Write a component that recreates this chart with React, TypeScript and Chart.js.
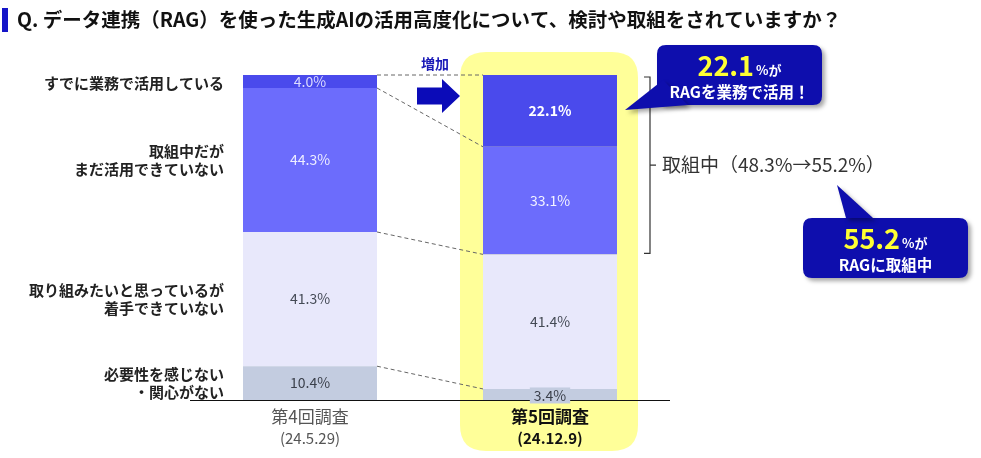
import React, { useEffect, useRef } from 'react';
import { Chart, registerables } from 'chart.js';
Chart.register(...registerables);

const titleText = 'Q. データ連携（RAG）を使った生成AIの活用高度化について、検討や取組をされていますか？';
const surveys = ['第4回調査', '第5回調査'];
const surveyDates = ['(24.5.29)', '(24.12.9)'];
// stacked bottom -> top
const seriesNames = ['必要性を感じない・関心がない', '取り組みたいと思っているが着手できていない', '取組中だがまだ活用できていない', 'すでに業務で活用している'];
const categoryLines = [
  ['必要性を感じない', '・関心がない'],
  ['取り組みたいと思っているが', '着手できていない'],
  ['取組中だが', 'まだ活用できていない'],
  ['すでに業務で活用している'],
];
const noNeed = [10.4, 3.4];
const wantTo = [41.3, 41.4];
const inProgress = [44.3, 33.1];
const usingNow = [4.0, 22.1];
const seriesColors = ['#c3cce0', '#e8e8fb', '#6c6cfc', '#4a4aec'];
const labelColors = [['#3a3f4a', '#3a3f4a'], ['#444a55', '#444a55'], ['#eeeeff', '#f4f4ff'], ['#dcdcff', '#ffffff']];
const bracketText = '取組中（48.3%→55.2%）';
const callout1 = { big: '22.1', small: '%が', line2: 'RAGを業務で活用！' };
const callout2 = { big: '55.2', small: '%が', line2: 'RAGに取組中' };
const increaseText = '増加';

const FONT = "'Noto Sans CJK JP', 'Noto Sans', sans-serif";

function roundRect(ctx: CanvasRenderingContext2D, x: number, y: number, w: number, h: number, r: number) {
  ctx.beginPath();
  ctx.moveTo(x + r, y);
  ctx.lineTo(x + w - r, y);
  ctx.quadraticCurveTo(x + w, y, x + w, y + r);
  ctx.lineTo(x + w, y + h - r);
  ctx.quadraticCurveTo(x + w, y + h, x + w - r, y + h);
  ctx.lineTo(x + r, y + h);
  ctx.quadraticCurveTo(x, y + h, x, y + h - r);
  ctx.lineTo(x, y + r);
  ctx.quadraticCurveTo(x, y, x + r, y);
  ctx.closePath();
}

function drawCallout(ctx: CanvasRenderingContext2D, x: number, y: number, w: number, h: number, tail: number[][], c: { big: string; small: string; line2: string }) {
  ctx.save();
  ctx.shadowColor = 'rgba(0,0,0,0.35)';
  ctx.shadowOffsetX = 3;
  ctx.shadowOffsetY = 3;
  ctx.shadowBlur = 4;
  ctx.fillStyle = '#0e0ead';
  roundRect(ctx, x, y, w, h, 9);
  ctx.fill();
  ctx.beginPath();
  ctx.moveTo(tail[0][0], tail[0][1]);
  ctx.lineTo(tail[1][0], tail[1][1]);
  ctx.lineTo(tail[2][0], tail[2][1]);
  ctx.closePath();
  ctx.fill();
  ctx.restore();
  ctx.save();
  ctx.textBaseline = 'alphabetic';
  ctx.textAlign = 'left';
  const bigFont = `bold 27px ${FONT}`;
  const smallFont = `bold 13px ${FONT}`;
  ctx.font = bigFont;
  const bw = ctx.measureText(c.big).width;
  ctx.font = smallFont;
  const sw = ctx.measureText(c.small).width;
  const cx = x + w / 2;
  const sx = cx - (bw + sw + 2) / 2;
  ctx.font = bigFont;
  ctx.fillStyle = '#ffff33';
  ctx.fillText(c.big, sx, y + 31);
  ctx.font = smallFont;
  ctx.fillStyle = '#ffffff';
  ctx.fillText(c.small, sx + bw + 2, y + 30);
  ctx.font = `bold 15.5px ${FONT}`;
  ctx.textAlign = 'center';
  ctx.textBaseline = 'middle';
  ctx.fillText(c.line2, cx, y + 47);
  ctx.restore();
}

const decorPlugin = {
  id: 'decor',
  beforeDatasetsDraw(chart: any) {
    const ctx: CanvasRenderingContext2D = chart.ctx;
    const ca = chart.chartArea;
    const bar = chart.getDatasetMeta(0).data[1];
    ctx.save();
    ctx.fillStyle = '#ffff99';
    roundRect(ctx, bar.x - 90, ca.top - 23, 178, ca.bottom - ca.top + 74, 26);
    ctx.fill();
    ctx.restore();
  },
  afterDatasetsDraw(chart: any) {
    const ctx: CanvasRenderingContext2D = chart.ctx;
    const ca = chart.chartArea;
    const metas = [0, 1, 2, 3].map((i) => chart.getDatasetMeta(i));
    ctx.save();
    // title
    ctx.fillStyle = '#1515c8';
    ctx.fillRect(2, 8, 6, 24);
    ctx.fillStyle = '#111111';
    ctx.font = `bold 19.5px ${FONT}`;
    ctx.textBaseline = 'alphabetic';
    ctx.textAlign = 'left';
    ctx.fillText(titleText, 17, 27);

    // axis baseline
    ctx.strokeStyle = '#111111';
    ctx.lineWidth = 1.2;
    ctx.beginPath();
    ctx.moveTo(ca.left, ca.bottom + 0.5);
    ctx.lineTo(ca.right, ca.bottom + 0.5);
    ctx.stroke();

    // dashed connectors
    ctx.strokeStyle = '#666666';
    ctx.lineWidth = 1;
    ctx.setLineDash([4, 3]);
    metas.forEach((m) => {
      const a = m.data[0];
      const b = m.data[1];
      ctx.beginPath();
      ctx.moveTo(a.x + a.width / 2, a.y);
      ctx.lineTo(b.x - b.width / 2, b.y);
      ctx.stroke();
    });
    ctx.setLineDash([]);

    // value labels
    const values = [noNeed, wantTo, inProgress, usingNow];
    metas.forEach((m, di) => {
      m.data.forEach((el: any, i: number) => {
        const cy = (el.y + el.base) / 2;
        const txt = values[di][i].toFixed(1) + '%';
        const bold = di === 3 && i === 1;
        ctx.font = `${bold ? 'bold ' : ''}14px ${FONT}`;
        ctx.textAlign = 'center';
        ctx.textBaseline = 'middle';
        let ty = cy;
        if (di === 0 && i === 1) {
          const tw = ctx.measureText(txt).width;
          ty = cy + 1;
          ctx.fillStyle = seriesColors[0];
          ctx.fillRect(el.x - tw / 2 - 4, ty - 8, tw + 8, 16);
        }
        if (di === 3 && i === 0) ty = cy + 0.5;
        ctx.fillStyle = labelColors[di][i];
        ctx.fillText(txt, el.x, ty);
      });
    });

    // left category labels
    ctx.fillStyle = '#222222';
    ctx.font = `bold 15px ${FONT}`;
    ctx.textAlign = 'right';
    ctx.textBaseline = 'middle';
    metas.forEach((m, di) => {
      const el = m.data[0];
      const cy = (el.y + el.base) / 2;
      const lines = categoryLines[di];
      const lh = 18;
      const start = cy - ((lines.length - 1) * lh) / 2 + (di === 3 ? 1.5 : 0);
      lines.forEach((ln, k) => ctx.fillText(ln, 224, start + k * lh));
    });

    // x labels
    const xs = chart.scales.x;
    surveys.forEach((s, i) => {
      const x = xs.getPixelForValue(i);
      ctx.textAlign = 'center';
      ctx.textBaseline = 'middle';
      ctx.fillStyle = i === 0 ? '#555555' : '#111111';
      ctx.font = `${i === 1 ? 'bold ' : ''}17px ${FONT}`;
      ctx.fillText(s, x, ca.bottom + 17);
      ctx.font = `${i === 1 ? 'bold ' : ''}15px ${FONT}`;
      ctx.fillText(surveyDates[i], x, ca.bottom + 38);
    });

    // 増加 + arrow
    const b1 = metas[3].data[1];
    const left1 = b1.x - b1.width / 2;
    ctx.fillStyle = '#1a1ab8';
    ctx.font = `bold 14px ${FONT}`;
    ctx.textAlign = 'center';
    ctx.fillText(increaseText, left1 - 48, ca.top - 11);
    ctx.fillStyle = '#0b0bb8';
    ctx.beginPath();
    const ay = ca.top + 21;
    ctx.moveTo(left1 - 66, ay - 8.5);
    ctx.lineTo(left1 - 41, ay - 8.5);
    ctx.lineTo(left1 - 41, ay - 17);
    ctx.lineTo(left1 - 23, ay);
    ctx.lineTo(left1 - 41, ay + 17);
    ctx.lineTo(left1 - 41, ay + 8.5);
    ctx.lineTo(left1 - 66, ay + 8.5);
    ctx.closePath();
    ctx.fill();

    // bracket
    const topY = metas[3].data[1].y + 2;
    const botY = metas[2].data[1].base - 1;
    const midY = (topY + botY) / 2;
    const bx = 650;
    ctx.strokeStyle = '#333333';
    ctx.lineWidth = 1.2;
    ctx.beginPath();
    ctx.moveTo(bx - 6, topY);
    ctx.lineTo(bx, topY);
    ctx.lineTo(bx, botY);
    ctx.lineTo(bx - 6, botY);
    ctx.moveTo(bx, midY);
    ctx.lineTo(bx + 6, midY);
    ctx.stroke();
    ctx.fillStyle = '#333333';
    ctx.font = `19px ${FONT}`;
    ctx.textAlign = 'left';
    ctx.textBaseline = 'middle';
    ctx.fillText(bracketText, 662, midY);

    // callouts
    drawCallout(ctx, 657, 45, 165, 60, [[663, 80], [625, 110], [688, 105]], callout1);
    drawCallout(ctx, 803, 218, 165, 60, [[837, 185], [846, 218], [873, 218]], callout2);
    ctx.restore();
  },
};

export default function App() {
  const ref = useRef<HTMLCanvasElement>(null);
  useEffect(() => {
    if (!ref.current) return;
    const data = [noNeed, wantTo, inProgress, usingNow];
    const chart = new Chart(ref.current, {
      type: 'bar',
      data: {
        labels: surveys,
        datasets: data.map((d, i) => ({
          label: seriesNames[i],
          data: d,
          backgroundColor: seriesColors[i],
          borderWidth: 0,
          barPercentage: 1,
          categoryPercentage: 134 / 240,
        })),
      },
      options: {
        animation: false,
        responsive: false,
        maintainAspectRatio: false,
        layout: { padding: { left: 190, right: 311, top: 75, bottom: 58 } },
        plugins: { legend: { display: false }, tooltip: { enabled: false }, title: { display: false } },
        scales: {
          x: { stacked: true, display: false, offset: true },
          y: { stacked: true, display: false, min: 0, max: 100 },
        },
      },
      plugins: [decorPlugin],
    });
    return () => chart.destroy();
  }, []);
  return (
    <div style={{ position: 'fixed', left: 0, top: 0, width: 981, height: 458, background: '#ffffff' }}>
      <canvas ref={ref} width={981} height={458} style={{ width: 981, height: 458, display: 'block' }} />
    </div>
  );
}
